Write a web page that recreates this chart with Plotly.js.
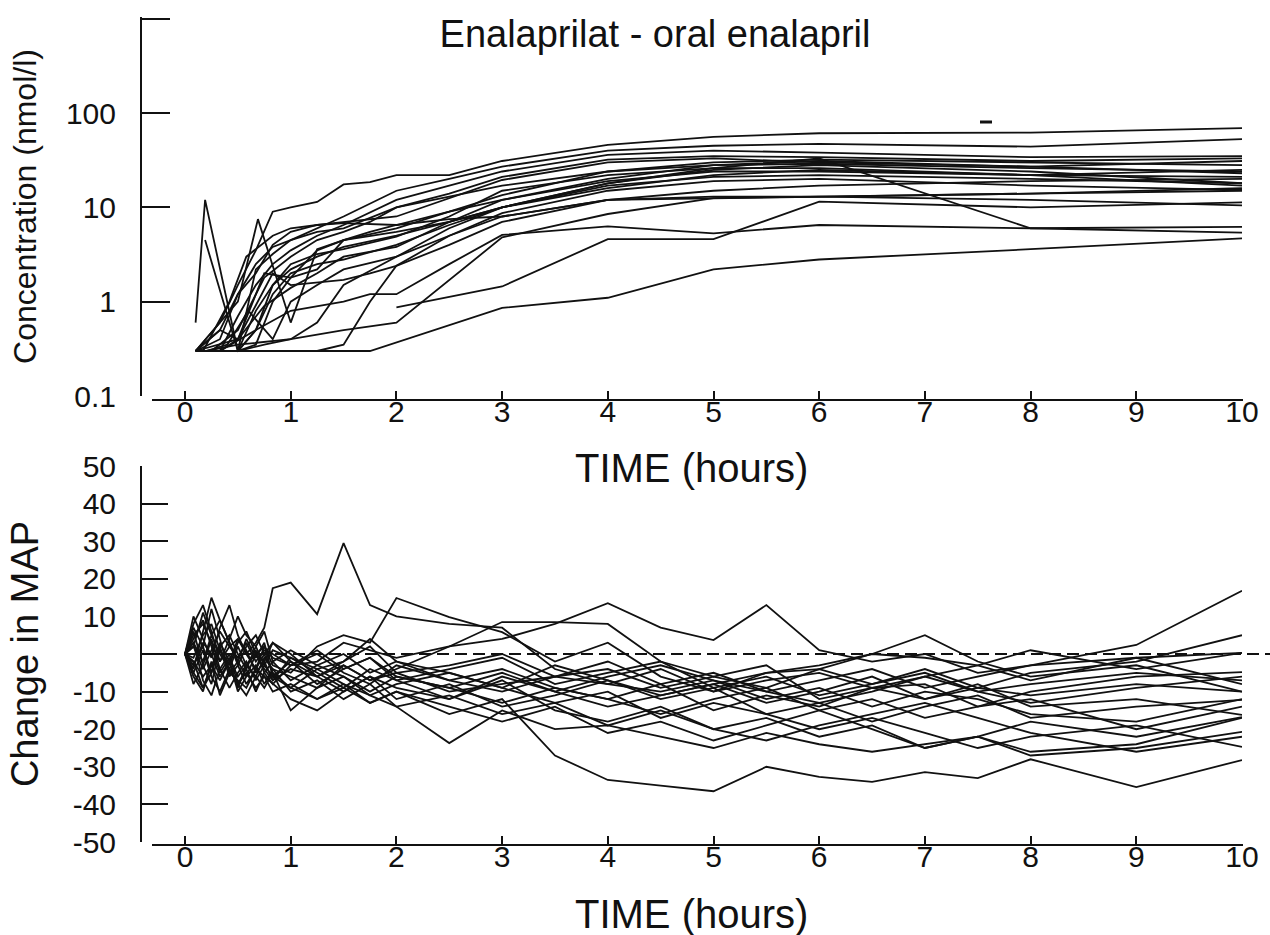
<!DOCTYPE html>
<html>
<head>
<meta charset="utf-8">
<script src="https://cdn.plot.ly/plotly-3.0.1.min.js"></script>
<style>html,body{margin:0;padding:0;background:#fff}#chart{width:1270px;height:935px}</style>
</head>
<body>
<div id="chart"></div>
<script>
// ---------- Top panel: enalaprilat concentration (nmol/l) ----------
const conc_s01_t = [0.1,0.33,0.5,0.67,0.83,1,1.25,1.5,1.75,2,2.5,3,4,5,6,8,10];
const conc_s01_v = [0.3,0.6,1.5,3.5,9,10,11.4,17.5,18.5,22,22,31,46,56,61,62,69];
const conc_s02_t = [0.1,0.19,0.5,0.67,0.83,1,1.25,1.5,2,2.5,3,4,5,6,8,10];
const conc_s02_v = [0.6,12,0.3,0.35,1.0,1.8,3.5,4.5,6,9,12,20,28,31,27,23];
const conc_s03_t = [0.19,0.5,0.67,0.83,1,1.25,1.5,2,2.5,3,4,5,6,8,10];
const conc_s03_v = [4.5,0.3,0.8,1.5,2.2,3,3.8,5,7,10,18,25,28,24,18];
const conc_s04_t = [0.1,0.5,0.69,1,1.25,1.5,2,2.5,3,4,5,6,8,10];
const conc_s04_v = [0.3,1.0,7.5,0.6,3.6,4.5,5.5,7,10,16,22,25,22,17];
const conc_s05_t = [0.1,0.5,1,1.5,1.75,3,4,5,6,8,10];
const conc_s05_v = [0.3,0.3,0.3,0.3,0.3,0.86,1.1,2.2,2.8,3.6,4.7];
const conc_s06_t = [0.2,0.5,1,1.5,2,3,4,5,6,8,10];
const conc_s06_v = [0.3,0.35,0.4,0.5,0.6,4.8,8.5,12.5,13,14,16];
const conc_s07_t = [2,3,4,5,6,8,10];
const conc_s07_v = [0.87,1.45,4.6,4.6,11.5,10,11.3];
const conc_s08_t = [0.33,0.67,1,1.5,1.75,2,2.5,3,4,5,6,8,10];
const conc_s08_v = [0.3,0.5,0.8,1.0,1.2,1.2,2.5,5.1,6.3,5.3,6.5,6,6.2];
const conc_s09_t = [0.17,0.33,0.5,0.67,0.83,1,1.25,1.5,2,2.5,3,4,5,6,8,10];
const conc_s09_v = [0.3,0.3,0.3,0.5,1.2,2.0,2.5,2.8,4.0,6.5,10,18,26,33,6,5.4];
const conc_s10_t = [0.1,0.33,0.5,0.67,0.83,1,1.5,2,2.5,3,4,5,6,8,10];
const conc_s10_v = [0.3,0.5,1.2,2.5,3.8,4.5,8,15,20,27,40,45,47,44,53];
const conc_s11_t = [0.17,0.33,0.5,0.67,0.83,1,1.25,1.5,2,2.5,3,4,5,6,8,10];
const conc_s11_v = [0.3,0.3,0.7,1.5,2.5,3.5,5,6.5,12,17,24,36,40,38,34,35];
const conc_s12_t = [0.25,0.5,0.75,1,1.25,1.5,1.75,2,2.5,3,4,5,6,8,10];
const conc_s12_v = [0.3,0.5,1.8,3.0,4.5,5.5,7,10,14,21,32,35,34,31,33];
const conc_s13_t = [0.1,0.33,0.5,0.67,0.83,1,1.25,1.5,2,3,4,5,6,8,10];
const conc_s13_v = [0.3,0.4,1.2,2.0,4.0,5.5,6.5,7.0,8,19.5,30,33,30,27,31];
const conc_s14_t = [0.17,0.42,0.58,0.83,1,1.25,1.5,2,2.5,3,4,5,6,8,10];
const conc_s14_v = [0.3,1.0,3.0,5,6,6.5,6.8,6.5,9,13.5,24,30,32,30,28];
const conc_s15_t = [0.33,0.5,0.67,0.83,1,1.25,1.5,1.75,2,2.5,3,4,5,6,8,10];
const conc_s15_v = [0.3,0.3,0.5,1.5,2.5,3.2,3.6,4.2,4.9,8,15,22,26,26,22,25];
const conc_s16_t = [0.1,0.33,0.5,0.75,1,1.25,1.5,2,2.5,3,4,5,6,8,10];
const conc_s16_v = [0.3,0.3,0.4,0.9,1.4,2.0,3.0,3.8,7,12,19,24,24,22,21];
const conc_s17_t = [0.25,0.5,0.75,1,1.25,1.5,2,2.5,3,4,5,6,8,10];
const conc_s17_v = [0.3,0.3,0.35,0.4,0.6,1.5,3,6,10,17,21,22,20,18];
const conc_s18_t = [0.33,0.67,1,1.25,1.5,1.75,2,2.5,3,4,5,6,8,10];
const conc_s18_v = [0.3,0.3,0.3,0.3,0.35,1.0,2.4,5,8.7,15,19,20,17,15.3];
const conc_s19_t = [0.1,0.5,0.75,1,1.25,1.5,1.75,2,2.5,3,4,5,6,8,10];
const conc_s19_v = [0.3,0.4,2.0,1.8,2.2,4.5,5.5,6.5,7.5,8,12,12.5,13,14,15];
const conc_s20_t = [0.1,0.33,0.5,0.67,0.83,1,1.25,1.5,1.75,2,2.5,3,4,5,6,8,10];
const conc_s20_v = [0.3,0.5,0.4,0.9,2.0,1.5,1.6,1.7,2.0,2.4,4,7,12,15,17,19,20];
const conc_s21_t = [0.1,0.33,0.5,0.67,0.83,1,1.25,1.5,2,2.5,3,4,5,6,8,10];
const conc_s21_v = [0.3,0.3,0.3,2.2,3.2,4.5,5.5,6,10,13,17,24,28,29,26,24];
const conc_s22_t = [0.2,0.4,0.6,0.83,1,1.25,1.5,2,2.5,3,4,5,6,8,10];
const conc_s22_v = [0.3,0.35,0.8,0.4,1.0,1.5,2.2,3.0,5,8,12,13,13,12,10.5];

// ---------- Bottom panel: change in MAP ----------
const mapTimes = [0,0.08,0.17,0.25,0.33,0.42,0.5,0.58,0.67,0.75,0.83,1,1.25,1.5,1.75,2,2.5,3,3.5,4,4.5,5,5.5,6,6.5,7,7.5,8,9,10];
const map_s01 = [0,5,8,3,-2,2,4,0,3,7,17.5,19,10.6,29.5,13,10,8,7,-4,-8,-10,-7,-12,-9,-14,-10,-12,-16,-18,-12];
const map_s02 = [0,-3,2,12,4,-5,-2,-6,0,2,-3,-5,2,5,3,14.9,9.8,5.8,-2,3,-6,-10,-5,-4,-8,-4,-9,-11,-8,-10];
const map_s03 = [0,2,-4,1,6,2,-1,3,-2,1,0,-3,-2,3,1,-1,2,4,8,13.5,7,3.7,13,1,-2,0,-5,-3,-1,0.3];
const map_s04 = [0,-5,-9,-3,-7,-2,-10,-6,-3,-8,-4,-6,-9,-3,-7,-4,2,8.5,8.5,8,-2,-6,-3,-12,-9,-8,-14,-10,-6,-4.8];
const map_s05 = [0,-2,-6,-3,1,-4,-8,-5,-9,-6,-10,-8,-12,-9,-13,-10,-16,-12,-27,-33.5,-35,-36.5,-30,-32.7,-34,-31.4,-33,-28,-35.4,-28.2];
const map_s06 = [0,3,-2,5,0,-4,2,-3,-6,-1,-4,-10,-7,-12,-8,-14,-23.7,-15,-20,-19,-22,-25,-21,-24,-26,-24,-22,-27,-25,-20.7];
const map_s07 = [0,8,13,6,-2,4,10,5,2,-3,1,-1,-4,-2,2,-5,-3,0,-6,-2,-8,-5,-10,-7,-4,-9,-6,-3,2.4,16.8];
const map_s08 = [0,-4,6,15,9,3,-2,4,-1,3,-6,-2,-8,-4,-1,-6,-9,-5,-10,-14,-11,-8,-13,-10,-6,-12,-9,-5,-2,5];
const map_s09 = [0,6,-3,-8,2,5,0,-4,2,6,-2,1,-3,0,-5,-2,-7,-4,-9,-12,-8,-15,-11,-14,-9,-6,-3,1,-4,0.3];
const map_s10 = [0,-6,-10,-2,-11,-5,-7,-9,-4,-6,-8,-12,-15,-10,-6,-12,-8,-14,-11,-7,-12,-9,-16,-13,-18,-14,-11,-17,-14,-12.2];
const map_s11 = [0,10,4,-1,7,13,5,0,-4,2,-1,-3,0,-5,-8,-3,-7,-10,-6,-8,-4,-10,-7,-5,-9,-12,-8,-14,-12,-16.2];
const map_s12 = [0,-8,-3,4,-4,-9,-5,-2,-7,-3,-6,-9,-4,-8,-11,-8,-5,-9,-13,-10,-17,-13,-16,-20,-17,-21,-25,-22,-19,-24.7];
const map_s13 = [0,4,9,2,-5,-1,-6,-3,0,-4,-7,-4,-6,-10,-6,-9,-12,-7,-15,-18,-14,-20,-17,-22,-19,-25,-22,-18,-22,-16.8];
const map_s14 = [0,-1,5,8,1,-3,3,6,0,-2,3,0,-6,-3,-7,-5,-10,-8,-6,-4,-9,-6,-9,-4,0,5,-2,-6,-3,-10];
const map_s15 = [0,3,-7,-11,-4,0,-8,-4,-10,-5,-2,-7,-3,-6,-10,-6,-9,-13,-9,-12,-16,-12,-9,-15,-12,-17,-14,-12,-20,-14];
const map_s16 = [0,-3,3,0,-6,-2,4,1,-5,-2,-7,-1,-5,-9,-4,-7,-4,-1,-8,-5,-2,-9,-6,-11,-8,-5,-10,-13,-9,-6];
const map_s17 = [0,2,11,5,9,3,-3,2,5,0,3,-2,-6,-2,4,-2,-5,-9,-3,-7,-11,-8,-5,-3,0,-1,-3,-7,-1,-8];
const map_s18 = [0,-5,1,-6,-10,-4,-8,-11,-6,-9,-5,-15,-9,-6,-11,-14,-11,-16,-13,-19,-15,-20,-23,-19,-16,-13,-17,-21,-26,-22];
const map_s19 = [0,7,2,-5,3,-2,-9,-3,1,-5,-8,-3,1,-4,-1,-7,-12,-6,-10,-6,-3,-7,-10,-13,-10,-6,-10,-8,-5,-7];
const map_s20 = [0,-2,-9,-5,2,-6,-3,-8,-4,0,-5,-9,-12,-8,-13,-10,-14,-18,-14,-21,-18,-23,-19,-15,-20,-25,-22,-26,-24,-17];

// tick labels
const timeTicks = [0,1,2,3,4,5,6,7,8,9,10];
const concTickVals = [0.1,1,10,100,1000];
const concTickText = ['0.1','1','10','100',''];
const mapTickVals = [-50,-40,-30,-20,-10,0,10,20,30,40,50];
const mapTickText = ['-50','-40','-30','-20','-10','','10','20','30','40','50'];

const concT = [conc_s01_t,conc_s02_t,conc_s03_t,conc_s04_t,conc_s05_t,conc_s06_t,conc_s07_t,conc_s08_t,conc_s09_t,conc_s10_t,conc_s11_t,conc_s12_t,conc_s13_t,conc_s14_t,conc_s15_t,conc_s16_t,conc_s17_t,conc_s18_t,conc_s19_t,conc_s20_t,conc_s21_t,conc_s22_t];
const concV = [conc_s01_v,conc_s02_v,conc_s03_v,conc_s04_v,conc_s05_v,conc_s06_v,conc_s07_v,conc_s08_v,conc_s09_v,conc_s10_v,conc_s11_v,conc_s12_v,conc_s13_v,conc_s14_v,conc_s15_v,conc_s16_v,conc_s17_v,conc_s18_v,conc_s19_v,conc_s20_v,conc_s21_v,conc_s22_v];
const mapV = [map_s01,map_s02,map_s03,map_s04,map_s05,map_s06,map_s07,map_s08,map_s09,map_s10,map_s11,map_s12,map_s13,map_s14,map_s15,map_s16,map_s17,map_s18,map_s19,map_s20];

const W = 1270, H = 935;
const px = v => v / W;
const py = v => 1 - v / H;
const FONT = 'Liberation Sans, Arial, Helvetica, sans-serif';
const INK = '#111';

const traces = [];
concT.forEach((t, i) => traces.push({type: 'scatter', mode: 'lines', x: t, y: concV[i], xaxis: 'x', yaxis: 'y', line: {color: INK, width: 1.8}, showlegend: false}));
mapV.forEach(v => traces.push({type: 'scatter', mode: 'lines', x: mapTimes, y: v, xaxis: 'x2', yaxis: 'y2', line: {color: INK, width: 1.8}, showlegend: false}));

const xCommon = {
  range: [-0.407, 10], domain: [px(142), px(1242)], anchor: 'free',
  ticks: 'inside', ticklen: 9, tickwidth: 2, tickcolor: INK, tickvals: timeTicks, ticktext: timeTicks.map(String),
  tickfont: {family: FONT, size: 30, color: INK}, ticklabelstandoff: -9, showgrid: false, zeroline: false
};
const yCommon = {
  showline: true, linecolor: INK, linewidth: 2, ticks: 'inside', tickwidth: 2, tickcolor: INK,
  tickfont: {family: FONT, size: 30, color: INK}, ticklabelstandoff: 18, showgrid: false, zeroline: false
};

const layout = {
  width: W, height: H, margin: {l: 0, r: 0, t: 0, b: 0}, showlegend: false,
  title: {text: 'Enalaprilat - oral enalapril', font: {family: FONT, size: 38, color: INK}, x: px(655), xanchor: 'center', y: py(34), yanchor: 'middle'},
  xaxis: Object.assign({}, xCommon, {position: py(400)}),
  yaxis: Object.assign({}, yCommon, {anchor: 'x', type: 'log', range: [-1, 3.018], domain: [py(396), py(17)], tickvals: concTickVals, ticktext: concTickText, ticklen: 28,
    title: {text: 'Concentration (nmol/l)', font: {family: FONT, size: 32, color: INK}, standoff: 20}}),
  xaxis2: Object.assign({}, xCommon, {position: py(845)}),
  yaxis2: Object.assign({}, yCommon, {anchor: 'x2', range: [-50, 50], domain: [py(842), py(466)], tickvals: mapTickVals, ticktext: mapTickText, ticklen: 26,
    title: {text: 'Change in MAP', font: {family: FONT, size: 38, color: INK}, standoff: 22}}),
  shapes: [
    {type: 'line', xref: 'paper', yref: 'paper', x0: px(152), x1: px(1243), y0: py(400), y1: py(400), line: {color: INK, width: 2}},
    {type: 'line', xref: 'paper', yref: 'paper', x0: px(152), x1: px(1243), y0: py(845), y1: py(845), line: {color: INK, width: 2}},
    {type: 'line', xref: 'paper', yref: 'y2', x0: px(185), x1: 1, y0: 0, y1: 0, line: {color: INK, width: 1.8, dash: '12px,6px'}},
    {type: 'line', xref: 'paper', yref: 'paper', x0: px(142), x1: px(177), y0: py(654), y1: py(654), line: {color: INK, width: 2}},
    {type: 'line', xref: 'paper', yref: 'paper', x0: px(980), x1: px(992), y0: py(122), y1: py(122), line: {color: INK, width: 3}}
  ],
  annotations: [
    {text: 'TIME (hours)', xref: 'paper', yref: 'paper', x: px(691), y: py(468), xanchor: 'center', yanchor: 'middle', showarrow: false, font: {family: FONT, size: 40, color: INK}},
    {text: 'TIME (hours)', xref: 'paper', yref: 'paper', x: px(691), y: py(914), xanchor: 'center', yanchor: 'middle', showarrow: false, font: {family: FONT, size: 40, color: INK}}
  ]
};

Plotly.newPlot('chart', traces, layout, {staticPlot: true, displayModeBar: false});
</script>
</body>
</html>
